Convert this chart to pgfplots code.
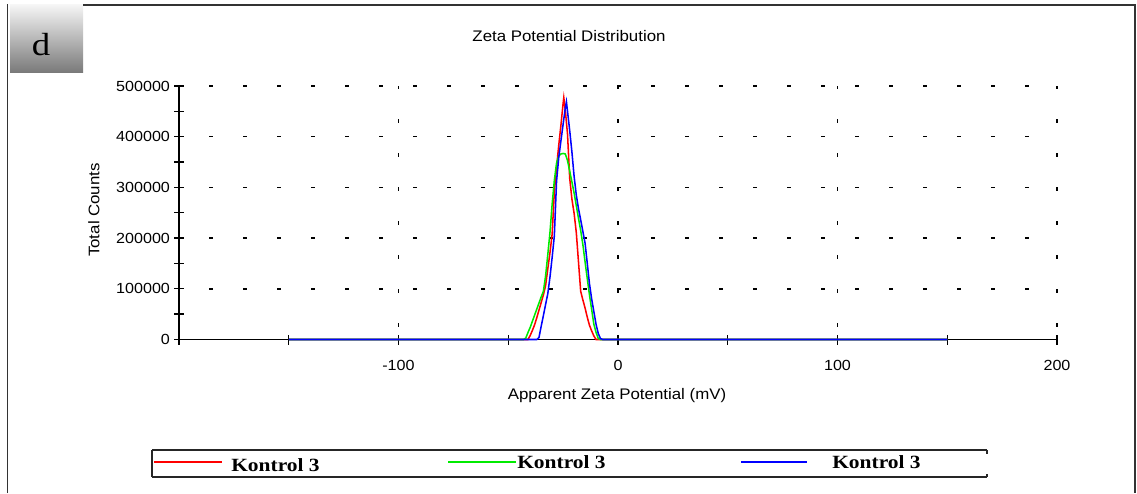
\documentclass[border=0pt]{standalone}
\usepackage{fontspec}
\setmainfont[FakeStretch=1.1]{Liberation Sans}
\newfontfamily\legfont[FakeStretch=1.15]{Liberation Serif}
\usepackage{pgfplots}
\pgfplotsset{compat=1.18}
\definecolor{kred}{RGB}{255,0,0}
\definecolor{kgreen}{RGB}{0,235,0}
\definecolor{kblue}{RGB}{0,0,255}

\begin{document}
\begin{tikzpicture}[x=0.75pt,y=0.75pt]
\path (0,0) rectangle (1137,493);
% panel label box
\shade[top color=black!4, bottom color=black!52] (10,421) rectangle (83,488);
\draw[line width=1.4pt, black!80] (7.5,0) -- (7.5,488.5);
\draw[line width=1.4pt, black!80] (83,488) -- (1135,488) -- (1135,0);
\node[anchor=base, font=\legfont\fontsize{24}{24}\selectfont, inner sep=0pt] at (41,438) {d};

\begin{axis}[
  set layers=standard,
  at={(134.25pt,115.125pt)}, anchor=south west,
  scale only axis, width=658.5pt, height=190.1pt,
  xmin=-200, xmax=200, ymin=0, ymax=500000,
  axis x line=bottom, axis y line=left,
  axis line style={-, line width=1.1pt, black},
  xtick={-200,-100,0,100,200},
  xticklabels={,-100,0,100,200},
  ytick={0,100000,200000,300000,400000,500000},
  yticklabels={0,100000,200000,300000,400000,500000},
  scaled y ticks=false, scaled x ticks=false,
  minor x tick num=1, minor y tick num=1,
  tick align=center,
  major tick length=7.5pt, minor tick length=7.5pt,
  tick style={black, line width=1.0pt},
  grid=major,
  x grid style={black, line width=1.1pt, dash pattern=on 3pt off 22.5pt, dash phase=16.1pt},
  y grid style={black, line width=1.1pt, dash pattern=on 3pt off 22.5pt, dash phase=3pt},
  ticklabel style={font=\fontsize{11}{11}\selectfont},
  xticklabel style={yshift=-8pt},
  yticklabel style={xshift=0.5pt},
  clip=false,
]
\addplot[kred, line width=1.15pt] coordinates {
(-150,0) (-41,0) (-40,8000) (-39,18000) (-38,29000) (-37,43000) (-36,58000)
(-35,73000) (-34,88000) (-33,106000) (-32,139000) (-31,171000) (-30,208000)
(-29,292000) (-28,339000) (-27,383000) (-26,423000) (-25,466000) (-24.7,477000)
(-24,452000) (-23,405000) (-22,318000) (-21,277000) (-20,249000) (-19,211000)
(-18,153000) (-17,95000) (-16,78000) (-15,62000) (-14,44000) (-13,28000)
(-12,17000) (-11,7000) (-10,0) (150,0)
};
\addplot[kgreen, line width=1.15pt] coordinates {
(-150,0) (-43,0) (-42,3000) (-41,14000) (-40,24000) (-39,36000) (-38,48000)
(-37,60000) (-36,72000) (-35,84000) (-34,95000) (-33,125000) (-32,167000)
(-31,211000) (-30,267000) (-29,314000) (-28,348000) (-27,362000) (-26,366000)
(-25,367000) (-24,366000) (-23,353000) (-22,332000) (-21,311000) (-20,289000)
(-19,264000) (-18,239000) (-17,215000) (-16,187000) (-15,153000) (-14,120000)
(-13,88000) (-12,59000) (-11,30000) (-10,14000) (-9,2000) (-8,0) (150,0)
};
\addplot[kblue, line width=1.15pt] coordinates {
(-150,0) (-37,0) (-36,4000) (-35,26000) (-34,47000) (-33,69000) (-32,90000)
(-31,123000) (-30,162000) (-29,205000) (-28,312000) (-27,359000) (-26,392000)
(-25,425000) (-24,457000) (-23.5,469000) (-23,450000) (-22,412000) (-21,370000)
(-20,322000) (-19,285000) (-18,258000) (-17,236000) (-16,213000) (-15,190000)
(-14,150000) (-13,110000) (-12,80000) (-11,55000) (-10,30000) (-9,12000)
(-8,2000) (-7,0) (150,0)
};
\end{axis}

% titles and labels
\node[font=\fontsize{11.5}{11.5}\selectfont, anchor=base, inner sep=0pt] at (569,451.3) {Zeta Potential Distribution};
\node[font=\fontsize{11.5}{11.5}\selectfont, rotate=90, anchor=center, inner sep=0pt] at (94,283) {Total Counts};
\node[font=\fontsize{11.5}{11.5}\selectfont, anchor=base, inner sep=0pt] at (617,94) {Apparent Zeta Potential (mV)};

% legend
\draw[black!85, line width=1.2pt] (152,43) -- (987,43);
\draw[black!85, line width=1.2pt] (152,16) -- (987,16);
\draw[black!85, line width=1.2pt] (152,16) -- (152,43);
\draw[black!85, line width=1.2pt] (987,43) -- (987,39.5);
\draw[black!85, line width=1.2pt] (987,16) -- (987,19.5);
\draw[kred, line width=1.15pt] (154,31) -- (222,31);
\draw[kgreen, line width=1.15pt] (448,31) -- (516,31);
\draw[kblue, line width=1.15pt] (741,31) -- (807,31);
\node[anchor=base west, inner sep=0pt, font=\legfont\bfseries\fontsize{14}{14}\selectfont] at (231,21.5) {Kontrol 3};
\node[anchor=base west, inner sep=0pt, font=\legfont\bfseries\fontsize{14}{14}\selectfont] at (517,24.3) {Kontrol 3};
\node[anchor=base west, inner sep=0pt, font=\legfont\bfseries\fontsize{14}{14}\selectfont] at (832,24.5) {Kontrol 3};
\end{tikzpicture}
\end{document}
